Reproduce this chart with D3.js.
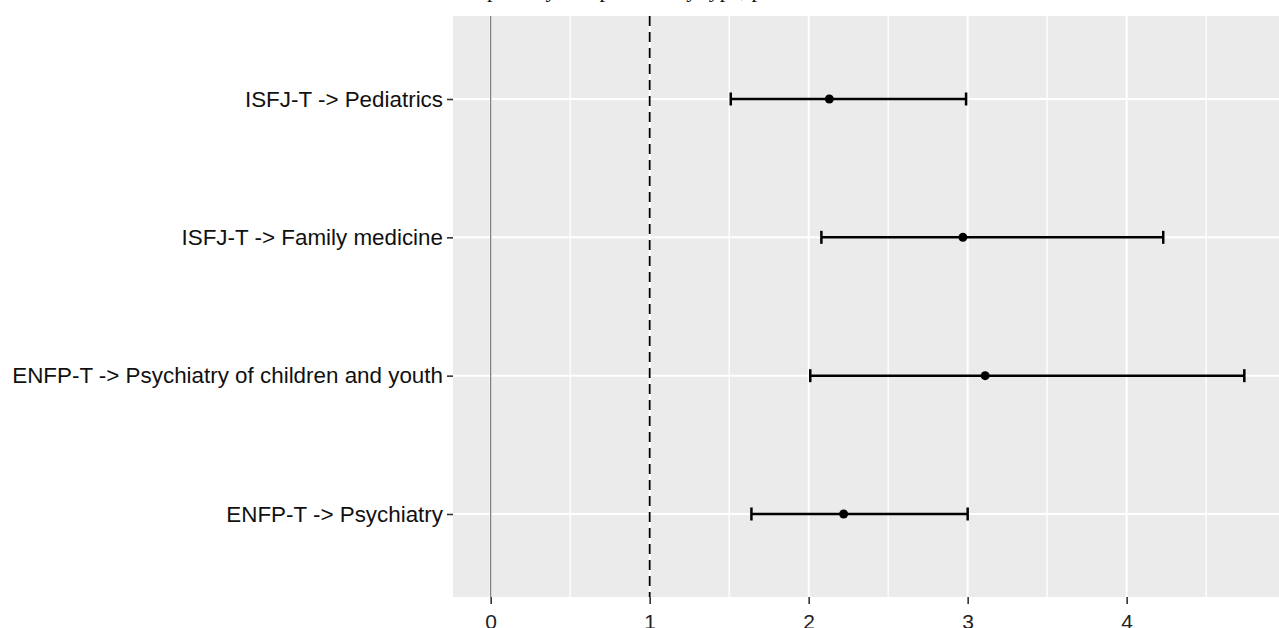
<!DOCTYPE html>
<html>
<head>
<meta charset="utf-8">
<script src="https://cdn.jsdelivr.net/npm/d3@7"></script>
<style>
  body { margin: 0; background: #fff; }
  svg { display: block; }
</style>
</head>
<body>
<svg width="1279" height="628"></svg>
<script>
// odds ratios with 95% CI
var labels = ["ISFJ-T -> Pediatrics", "ISFJ-T -> Family medicine",
              "ENFP-T -> Psychiatry of children and youth", "ENFP-T -> Psychiatry"];
var estimates = [2.13, 2.97, 3.11, 2.22];
var lowerCI = [1.51, 2.08, 2.01, 1.64];
var upperCI = [2.99, 4.23, 4.74, 3.00];
var xTicks = [0, 1, 2, 3, 4];
var xMinor = [0.5, 1.5, 2.5, 3.5, 4.5];
var refLine = 1;

var title = "Odds ratios of association between the medical specialty and personality type, p < 0.05";

var rows = labels.map(function(d, i) {
  return { label: d, est: estimates[i], lo: lowerCI[i], hi: upperCI[i] };
});

var svg = d3.select("svg");

var panel = { left: 453, top: 16, right: 1282, bottom: 597 };

// ggplot-style 5% expansion around data range (incl. 0 line)
var xmin = Math.min(0, d3.min(lowerCI)), xmax = d3.max(upperCI);
var pad = (xmax - xmin) * 0.05;
var x = d3.scaleLinear()
    .domain([xmin - pad, xmax + pad])
    .range([panel.left, panel.right]);

var y = d3.scalePoint()
    .domain(labels)
    .range([panel.top, panel.bottom])
    .padding(0.6);

// title, almost all of it cut off at the top of the picture
var titleText = svg.append("text")
    .attr("y", -3)
    .style("font-family", "'Liberation Serif', 'Times New Roman', serif")
    .style("font-size", "22px")
    .attr("fill", "#111")
    .text(title);
var probe = svg.append("text")
    .style("font-family", "'Liberation Serif', 'Times New Roman', serif")
    .style("font-size", "22px")
    .text(title.slice(0, title.indexOf("specialty") + 1));
var preW = probe.node().getComputedTextLength();
probe.remove();
titleText.attr("x", 487 - preW);

// panel background
svg.append("rect")
    .attr("x", panel.left)
    .attr("y", panel.top)
    .attr("width", panel.right - panel.left)
    .attr("height", panel.bottom - panel.top)
    .attr("fill", "#EBEBEB");

var grid = svg.append("g").attr("class", "grid");

grid.selectAll("line.minor")
    .data(xMinor)
    .enter().append("line")
    .attr("class", "minor")
    .attr("x1", function(d) { return x(d); })
    .attr("x2", function(d) { return x(d); })
    .attr("y1", panel.top)
    .attr("y2", panel.bottom)
    .attr("stroke", "#fff")
    .attr("stroke-width", 1.3);

grid.selectAll("line.majorx")
    .data(xTicks)
    .enter().append("line")
    .attr("class", "majorx")
    .attr("x1", function(d) { return x(d); })
    .attr("x2", function(d) { return x(d); })
    .attr("y1", panel.top)
    .attr("y2", panel.bottom)
    .attr("stroke", "#fff")
    .attr("stroke-width", 2);

grid.selectAll("line.majory")
    .data(labels)
    .enter().append("line")
    .attr("class", "majory")
    .attr("x1", panel.left)
    .attr("x2", panel.right)
    .attr("y1", function(d) { return y(d); })
    .attr("y2", function(d) { return y(d); })
    .attr("stroke", "#fff")
    .attr("stroke-width", 2);

// zero line and reference line at OR = 1
svg.append("line")
    .attr("x1", x(0)).attr("x2", x(0))
    .attr("y1", panel.top).attr("y2", panel.bottom)
    .attr("stroke", "#777")
    .attr("stroke-width", 1.2);

svg.append("line")
    .attr("x1", x(refLine)).attr("x2", x(refLine))
    .attr("y1", panel.top).attr("y2", panel.bottom)
    .attr("stroke", "#000")
    .attr("stroke-width", 1.8)
    .attr("stroke-dasharray", "10,6");

// error bars
var bars = svg.append("g").attr("class", "bars")
    .selectAll("g")
    .data(rows)
    .enter().append("g");

bars.append("line")
    .attr("x1", function(d) { return x(d.lo); })
    .attr("x2", function(d) { return x(d.hi); })
    .attr("y1", function(d) { return y(d.label); })
    .attr("y2", function(d) { return y(d.label); })
    .attr("stroke", "#000")
    .attr("stroke-width", 2.5);

bars.selectAll("line.cap")
    .data(function(d) { return [{ v: d.lo, label: d.label }, { v: d.hi, label: d.label }]; })
    .enter().append("line")
    .attr("class", "cap")
    .attr("x1", function(d) { return x(d.v); })
    .attr("x2", function(d) { return x(d.v); })
    .attr("y1", function(d) { return y(d.label) - 6.5; })
    .attr("y2", function(d) { return y(d.label) + 6.5; })
    .attr("stroke", "#000")
    .attr("stroke-width", 2.5);

bars.append("circle")
    .attr("cx", function(d) { return x(d.est); })
    .attr("cy", function(d) { return y(d.label); })
    .attr("r", 4.5)
    .attr("fill", "#000");

// axes
var xAxis = svg.append("g")
    .attr("transform", "translate(0," + panel.bottom + ")")
    .call(d3.axisBottom(x).tickValues(xTicks).tickSize(7).tickPadding(10).tickFormat(d3.format("d")));
xAxis.select(".domain").remove();
xAxis.selectAll(".tick line").attr("stroke", "#333").attr("stroke-width", 1.6);
xAxis.selectAll(".tick text")
    .attr("fill", "#222")
    .style("font-family", "'Liberation Sans', Arial, sans-serif")
    .style("font-size", "21px");

var yAxis = svg.append("g")
    .attr("transform", "translate(" + panel.left + ",0)")
    .call(d3.axisLeft(y).tickSize(6).tickPadding(4));
yAxis.select(".domain").remove();
yAxis.selectAll(".tick line").attr("stroke", "#333").attr("stroke-width", 1.6);
yAxis.selectAll(".tick text")
    .attr("fill", "#111")
    .style("font-family", "'Liberation Sans', Arial, sans-serif")
    .style("font-size", "22.4px");
</script>
</body>
</html>
